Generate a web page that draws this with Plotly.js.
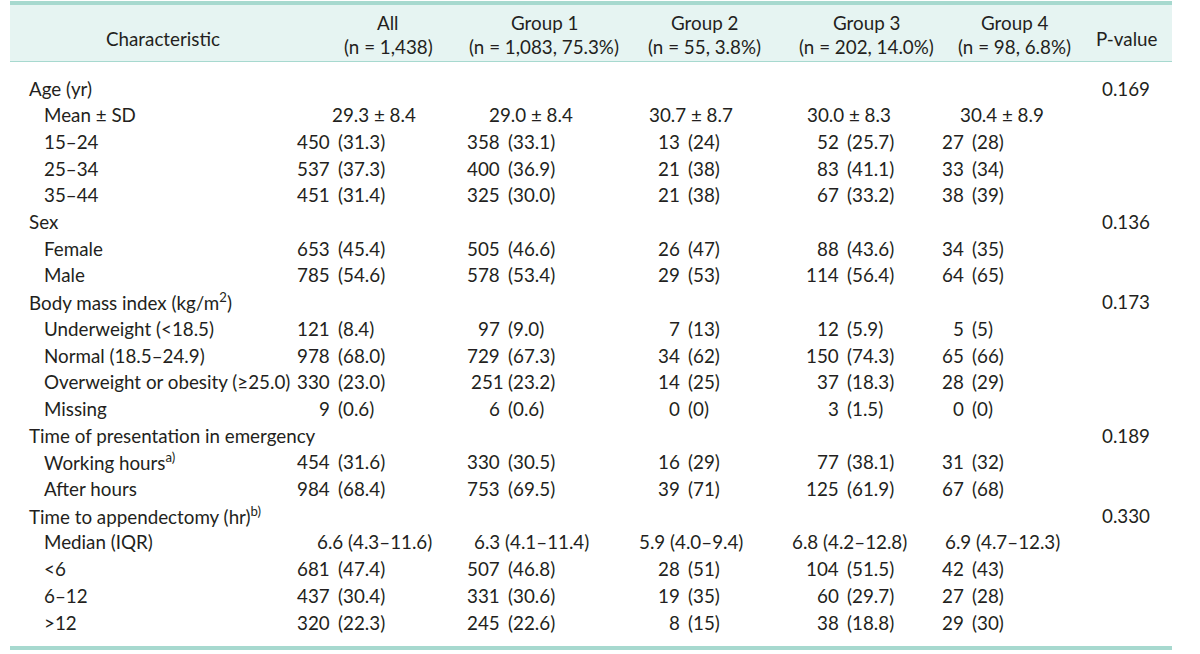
<!DOCTYPE html>
<html>
<head>
<meta charset="utf-8">
<script src="https://cdn.plot.ly/plotly-3.0.1.min.js"></script>
<style>html,body{margin:0;padding:0;background:#fff;}#chart{width:1200px;height:654px;}</style>
</head>
<body>
<div id="chart"></div>
<script>
// ---- data ----
const headerNames = ["Characteristic", "All", "Group 1", "Group 2", "Group 3", "Group 4", "P-value"];
const headerSubs = ["", "(n = 1,438)", "(n = 1,083, 75.3%)", "(n = 55, 3.8%)", "(n = 202, 14.0%)", "(n = 98, 6.8%)", ""];

const labels = ["Age (yr)", "Mean ± SD", "15–24", "25–34", "35–44",
  "Sex", "Female", "Male",
  "Body mass index (kg/m<sup>2</sup>)", "Underweight (&lt;18.5)", "Normal (18.5–24.9)", "Overweight or obesity (≥25.0)", "Missing",
  "Time of presentation in emergency", "Working hours<sup>a)</sup>", "After hours",
  "Time to appendectomy (hr)<sup>b)</sup>", "Median (IQR)", "&lt;6", "6–12", "&gt;12"];
const levels = [0,1,1,1,1, 0,1,1, 0,1,1,1,1, 0,1,1, 0,1,1,1,1];

const allCol = ["", "29.3 ± 8.4", "450 (31.3)", "537 (37.3)", "451 (31.4)", "", "653 (45.4)", "785 (54.6)", "", "121 (8.4)", "978 (68.0)", "330 (23.0)", "9 (0.6)", "", "454 (31.6)", "984 (68.4)", "", "6.6 (4.3–11.6)", "681 (47.4)", "437 (30.4)", "320 (22.3)"];
const group1 = ["", "29.0 ± 8.4", "358 (33.1)", "400 (36.9)", "325 (30.0)", "", "505 (46.6)", "578 (53.4)", "", "97 (9.0)", "729 (67.3)", "251(23.2)", "6 (0.6)", "", "330 (30.5)", "753 (69.5)", "", "6.3 (4.1–11.4)", "507 (46.8)", "331 (30.6)", "245 (22.6)"];
const group2 = ["", "30.7 ± 8.7", "13 (24)", "21 (38)", "21 (38)", "", "26 (47)", "29 (53)", "", "7 (13)", "34 (62)", "14 (25)", "0 (0)", "", "16 (29)", "39 (71)", "", "5.9 (4.0–9.4)", "28 (51)", "19 (35)", "8 (15)"];
const group3 = ["", "30.0 ± 8.3", "52 (25.7)", "83 (41.1)", "67 (33.2)", "", "88 (43.6)", "114 (56.4)", "", "12 (5.9)", "150 (74.3)", "37 (18.3)", "3 (1.5)", "", "77 (38.1)", "125 (61.9)", "", "6.8 (4.2–12.8)", "104 (51.5)", "60 (29.7)", "38 (18.8)"];
const group4 = ["", "30.4 ± 8.9", "27 (28)", "33 (34)", "38 (39)", "", "34 (35)", "64 (65)", "", "5 (5)", "65 (66)", "28 (29)", "0 (0)", "", "31 (32)", "67 (68)", "", "6.9 (4.7–12.3)", "42 (43)", "27 (28)", "29 (30)"];
const pValues = ["0.169", "", "", "", "", "0.136", "", "", "0.173", "", "", "", "", "0.189", "", "", "0.330", "", "", "", ""];
const summaryRows = ["Mean ± SD", "Median (IQR)"];

// ---- layout geometry ----
const W = 1200, H = 654;
const TXT = "#231f20";
const FONT = "Lato";
const FS = 18.8;
const headerCenters = [163, 388, 544, 704, 866, 1014, 1127];
const parenAnchor = [336, 506, 686, 845, 970];   // x where "(" starts
const summaryCenters = [374, 531, 691, 849, 1002];
const pCenter = 1126;
const rowY0 = 88, rowStep = 26.7;
const labelX = [27, 42];

const ann = [];
function add(x, y, text, anchor) {
  ann.push({x: x, y: y, xref: "x", yref: "y", text: text, showarrow: false,
    xanchor: anchor, yanchor: "middle", font: {family: FONT, size: FS, color: TXT}});
}

// header
headerNames.forEach((h, i) => {
  if (headerSubs[i]) {
    add(headerCenters[i], 22, h, "center");
    add(headerCenters[i], 46, headerSubs[i], "center");
  } else {
    add(headerCenters[i], 38, h, "center");
  }
});

// body
const cols = [allCol, group1, group2, group3, group4];
labels.forEach((lab, r) => {
  const y = rowY0 + r * rowStep;
  add(labelX[levels[r]], y, lab, "left");
  const isSummary = summaryRows.indexOf(lab) >= 0;
  cols.forEach((col, c) => {
    const v = col[r];
    if (!v) return;
    if (isSummary) {
      add(summaryCenters[c], y, v, "center");
    } else {
      const k = v.indexOf("(");
      const num = v.slice(0, k).trim();
      const par = v.slice(k);
      const gap = v[k - 1] === " " ? 4.5 : 0;
      add(parenAnchor[c] - gap, y, num, "right");
      add(parenAnchor[c], y, par, "left");
    }
  });
  if (pValues[r]) add(pCenter, y, pValues[r], "center");
});

const teal = "#a7d9cf";
const shapes = [
  {type: "rect", xref: "x", yref: "y", x0: 10, x1: 1172, y0: 4, y1: 61, fillcolor: "#e6f4f2", line: {width: 0}, layer: "below"},
  {type: "line", xref: "x", yref: "y", x0: 10, x1: 1172, y0: 3, y1: 3, line: {color: teal, width: 4}},
  {type: "line", xref: "x", yref: "y", x0: 10, x1: 1172, y0: 61.5, y1: 61.5, line: {color: teal, width: 1.2}},
  {type: "line", xref: "x", yref: "y", x0: 10, x1: 1172, y0: 648, y1: 648, line: {color: teal, width: 4}}
];

const layout = {
  width: W, height: H,
  margin: {l: 0, r: 0, t: 0, b: 0},
  paper_bgcolor: "#ffffff", plot_bgcolor: "#ffffff",
  xaxis: {range: [0, W], visible: false, fixedrange: true},
  yaxis: {range: [H, 0], visible: false, fixedrange: true},
  showlegend: false,
  annotations: ann,
  shapes: shapes
};
Plotly.newPlot("chart", [], layout, {staticPlot: true, displayModeBar: false});
</script>
</body>
</html>
